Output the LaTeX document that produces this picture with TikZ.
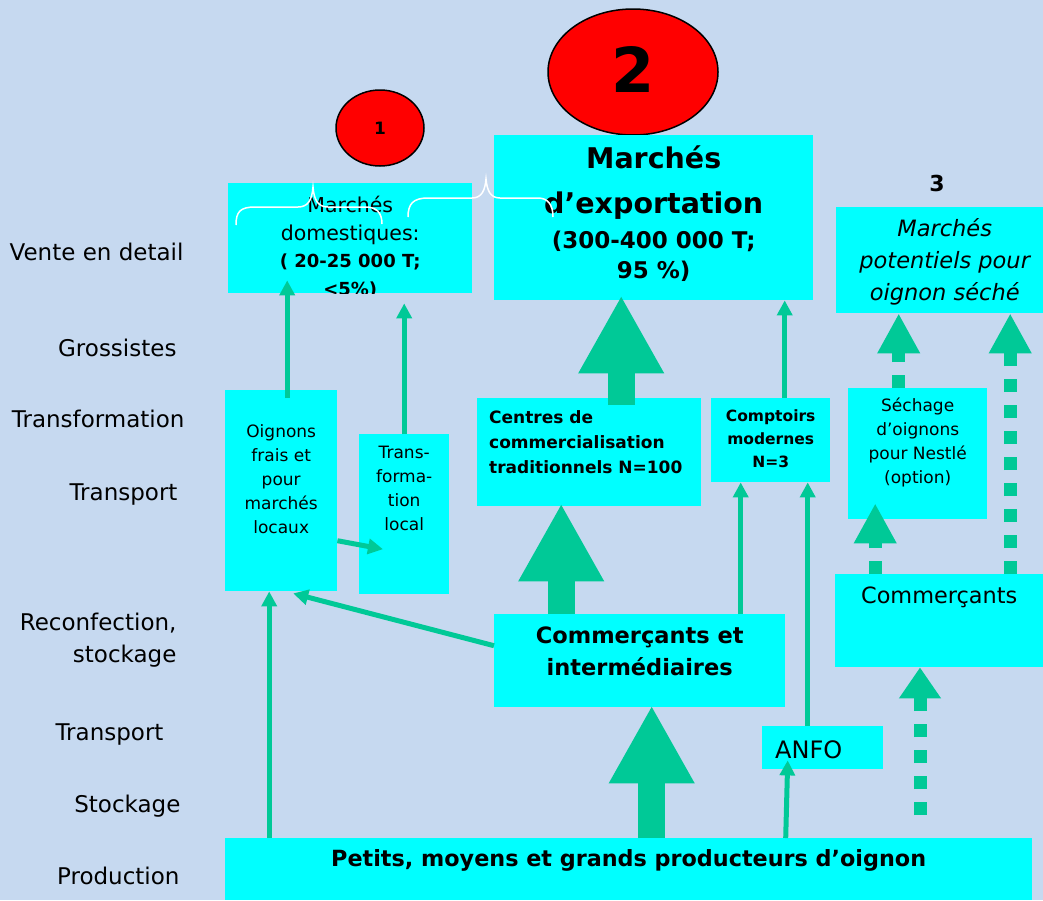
\documentclass[tikz,border=0pt]{standalone}
\usepackage{fontspec}
\setmainfont{DejaVu Sans}
\usetikzlibrary{arrows.meta,shapes.geometric,positioning}

\definecolor{fondbleu}{RGB}{198,217,240}
\definecolor{cyanboite}{RGB}{0,255,255}
\definecolor{vertfleche}{RGB}{0,201,151}

\tikzset{
  boite/.style={fill=cyanboite, inner sep=0pt, anchor=north west},
  texte/.style={inner sep=0pt, anchor=north, align=center},
  niveau/.style={anchor=base east, align=right, font=\fontsize{23}{26}\selectfont},
  fin/.style={vertfleche, line width=5pt, -{Triangle[width=15pt,length=15pt]}},
  gros/.style={vertfleche, line width=27pt, -{Triangle[width=80pt,length=78pt]}},
  pointille/.style={vertfleche, line width=13pt, dash pattern=on 13pt off 13pt, -{Triangle[width=40pt,length=40pt]}},
  pastille/.style={ellipse, draw=black, fill=red, line width=1.5pt, inner sep=0pt},
  accolade/.style={draw=white, line width=1.5pt}
}

\begin{document}
\begin{tikzpicture}[x=1pt, y=-1pt]
\useasboundingbox (0,0) rectangle (1043,900);
\fill[fondbleu] (0,0) rectangle (1043,900);
% Niveaux de la filiere
\node[niveau] (n1) at (187,260) {Vente en detail};
\node[niveau] (n2) at (180,356) {Grossistes};
\node[niveau] (n3) at (188,427) {Transformation};
\node[niveau] (n4) at (181,500) {Transport};
\node[niveau, font=\fontsize{23}{32}\selectfont] (n5) at (180,662) {Reconfection,\\stockage};
\node[niveau] (n6) at (167,740) {Transport};
\node[niveau] (n7) at (184,812) {Stockage};
\node[niveau] (n8) at (183,884) {Production};
% Marches
\node[pastille, minimum width=88pt, minimum height=76pt, font=\bfseries\fontsize{17}{20}\selectfont] (un) at (380,128) {1};
\node[pastille, minimum width=170pt, minimum height=126pt, font=\bfseries\fontsize{62}{70}\selectfont] (deux) at (633,72) {\raisebox{5pt}{2}};
\node[font=\bfseries\fontsize{22}{26}\selectfont] (trois) at (937,183) {3};
\node[boite, minimum width=244pt, minimum height=110pt] (dom) at (228,183) {};
\node[boite, minimum width=319pt, minimum height=165pt] (export) at (494,135) {};
\node[boite, minimum width=207pt, minimum height=106pt] (potentiel) at (836,207) {};
% Intermediaires
\node[boite, minimum width=112pt, minimum height=201pt] (oig) at (225,390) {};
\node[boite, minimum width=90pt, minimum height=160pt] (transloc) at (359,434) {};
\node[boite, minimum width=224pt, minimum height=108pt] (centres) at (477,398) {};
\node[boite, minimum width=119pt, minimum height=84pt] (comptoirs) at (711,398) {};
\node[boite, minimum width=139pt, minimum height=131pt] (sechage) at (848,388) {};
\node[boite, minimum width=208pt, minimum height=93pt] (commercants) at (835,574) {};
\node[boite, minimum width=291pt, minimum height=93pt] (commint) at (494,614) {};
\node[boite, minimum width=121pt, minimum height=43pt] (anfo) at (762,726) {};
\node[boite, minimum width=807pt, minimum height=62pt] (producteurs) at (225,838) {};
% Textes des boites
\begin{scope}
\clip (dom.north west) rectangle (dom.south east);
\node[texte, font=\fontsize{20.5}{27.5}\selectfont, below=13pt of dom.north] (domtxt) {Marchés\\domestiques:\\{\bfseries\fontsize{18}{20}\selectfont ( 20-25 000 T;}\\{\bfseries\fontsize{18}{20}\selectfont <5\%)}};
\end{scope}
\node[texte, font=\bfseries\fontsize{28.5}{35}\selectfont, below=11pt of export.north] (exptxt) {Marchés\\[9pt]d’exportation\\{\fontsize{23}{28}\selectfont (300-400 000 T;}\\[-5pt]{\fontsize{23}{28}\selectfont 95 \%)}};
\node[texte, font=\itshape\fontsize{22.5}{32}\selectfont] (pottxt) at ([xshift=5pt,yshift=-11pt]potentiel.north) {Marchés\\potentiels pour\\oignon séché};
\node[texte, font=\fontsize{17}{24}\selectfont, below=34pt of oig.north] (oigtxt) {Oignons\\frais et\\pour\\marchés\\locaux};
\node[texte, font=\fontsize{17}{24}\selectfont, below=12pt of transloc.north] (transtxt) {Trans-\\forma-\\tion\\local};
\node[texte, anchor=north west, align=left, font=\bfseries\fontsize{17}{25}\selectfont] (centxt) at ([xshift=12pt,yshift=-12pt]centres.north west) {Centres de\\commercialisation\\traditionnels N=100};
\node[texte, font=\bfseries\fontsize{15.5}{23}\selectfont, below=12pt of comptoirs.north] (comptxt) {Comptoirs\\modernes\\N=3};
\node[texte, font=\fontsize{17}{24}\selectfont, below=10pt of sechage.north] (sechtxt) {Séchage\\d’oignons\\pour Nestlé\\(option)};
\node[texte, font=\fontsize{22.4}{30}\selectfont, below=13pt of commercants.north] (commtxt) {Commerçants};
\node[texte, font=\bfseries\fontsize{22.5}{32}\selectfont, below=13pt of commint.north] (cintxt) {Commerçants et\\intermédiaires};
\node[texte, anchor=north west, font=\fontsize{24}{28}\selectfont] (anfotxt) at ([xshift=13pt,yshift=-14pt]anfo.north west) {ANFO};
\node[texte, font=\bfseries\fontsize{22.3}{26}\selectfont, below=11pt of producteurs.north] (prodtxt) {Petits, moyens et grands producteurs d’oignon};
% Fleches fines
\draw[fin] ([xshift=6pt,yshift=-8pt]oig.north) -- ([xshift=6pt,yshift=13pt]oig.north |- dom.south);
\draw[fin] (transloc.north) -- ([yshift=-10pt]dom.south -| transloc.north);
\draw[fin] ([yshift=-50pt]oig.east) -- ([xshift=24pt,yshift=-35pt]transloc.west);
\draw[fin] ([yshift=15pt]commint.west) -- ([xshift=12pt,yshift=-2pt]oig.south);
\draw[fin] ([xshift=-12pt]oig.south |- producteurs.north) -- ([xshift=-12pt]oig.south);
\draw[fin] ([xshift=-30pt]comptoirs.south |- commint.north) -- ([xshift=-30pt]comptoirs.south);
\draw[fin] ([xshift=37pt]comptoirs.south |- anfo.north) -- ([xshift=37pt]comptoirs.south);
\draw[fin] ([xshift=157pt]producteurs.north) -- ([xshift=-35pt,yshift=9pt]anfo.south);
\draw[fin] ([xshift=14pt]comptoirs.north) -- ([xshift=14pt]comptoirs.north |- export.south);
% Grosses fleches
\draw[gros] ([xshift=32pt,yshift=-7pt]centres.north) -- ([xshift=32pt,yshift=5pt]centres.north |- export.south);
\draw[gros] ([xshift=-28pt]centres.south |- commint.north) -- ([xshift=-28pt,yshift=3pt]centres.south);
\draw[gros] ([xshift=12pt]commint.south |- producteurs.north) -- ([xshift=12pt,yshift=2pt]commint.south);
% Fleches en pointille (option sechage)
\draw[pointille] ([xshift=-19pt]sechage.north) -- ([xshift=-19pt]sechage.north |- potentiel.south);
\draw[pointille] ([xshift=71pt]commercants.north) -- ([xshift=71pt]commercants.north |- potentiel.south);
\draw[pointille] ([xshift=-64pt]commercants.north) -- ([xshift=-64pt,yshift=16pt]commercants.north |- sechage.south);
\coordinate (stock) at (920,815);
\draw[pointille, -{Triangle[width=40pt,length=31pt]}] (stock) -- (stock |- commercants.south);
% Accolades
\draw[accolade] (236,225) .. controls (236,212) and (240,207) .. (255,207) -- (298,207) .. controls (308,207) and (312,200) .. (313,187) .. controls (314,200) and (318,207) .. (328,207) -- (365,207) .. controls (376,207) and (382,212) .. (382,224);
\draw[accolade] (408,217) .. controls (408,204) and (413,198) .. (428,198) -- (472,198) .. controls (482,198) and (485,190) .. (486,179) .. controls (487,190) and (490,198) .. (500,198) -- (538,198) .. controls (548,198) and (553,205) .. (553,217);
\end{tikzpicture}
\end{document}
